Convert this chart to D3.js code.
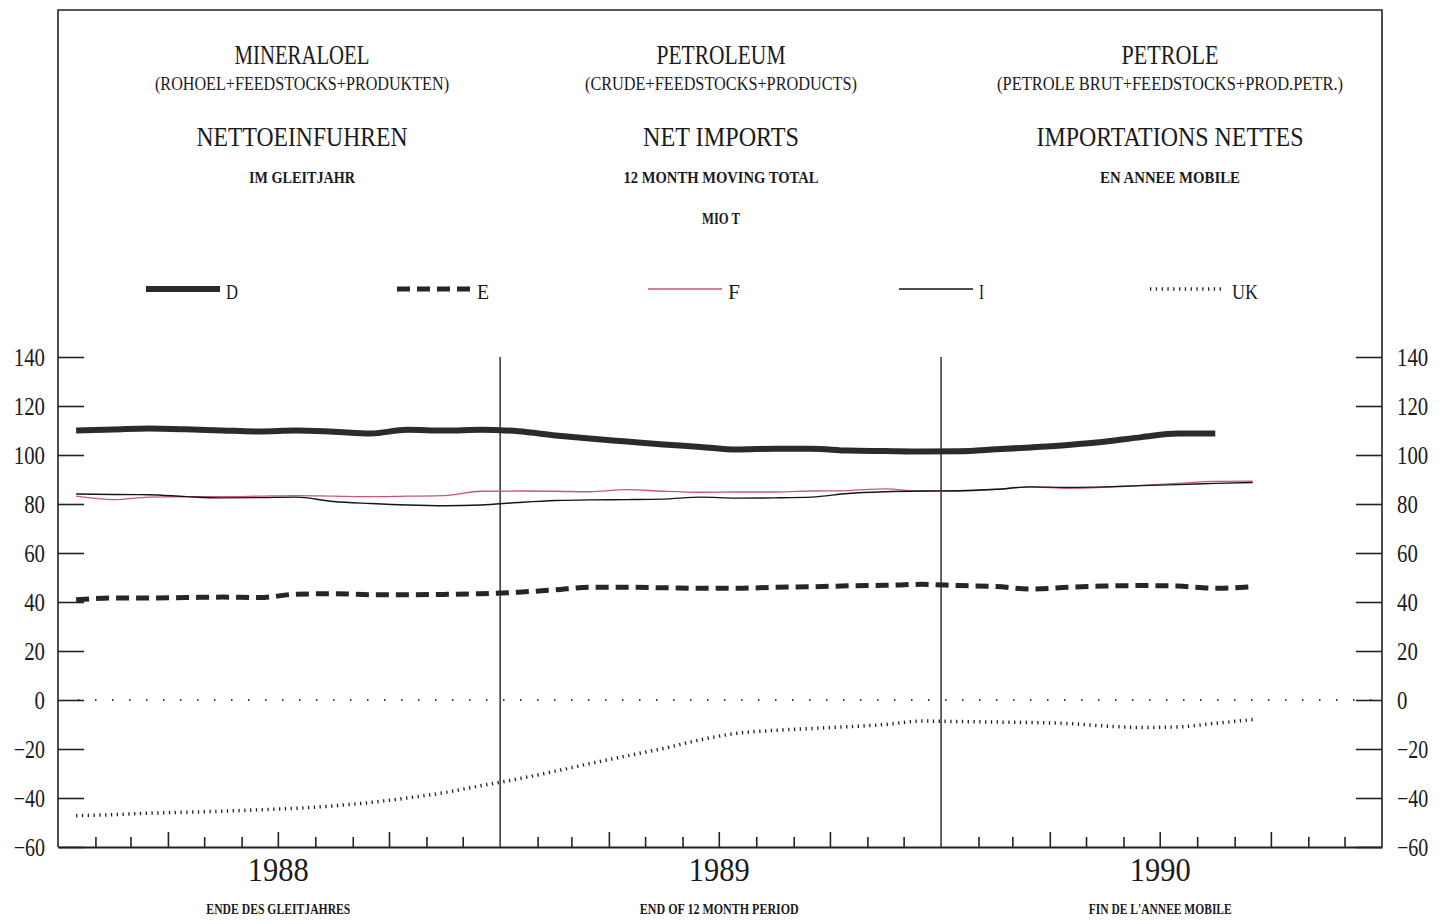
<!DOCTYPE html>
<html>
<head>
<meta charset="utf-8">
<script src="https://cdn.jsdelivr.net/npm/d3@7"></script>
<style>
  body { margin: 0; background: #fff; }
  svg { font-family: "Liberation Serif", "DejaVu Serif", serif; }
</style>
</head>
<body>
<svg></svg>
<script>
// Net imports of petroleum, 12 month moving total, Mio t (monthly from Jan 1988)
var countries = ["D", "E", "F", "I", "UK"];

var dValues = [110.0, 110.4, 110.8, 110.5, 110.0, 109.6, 110.0, 109.5, 108.8, 110.3, 110.0, 110.3,
               109.7, 108.0, 106.7, 105.5, 104.3, 103.3, 102.2, 102.6, 102.6, 101.8, 101.6, 101.4,
               101.5, 102.3, 103.1, 104.1, 105.4, 107.3, 108.8, 108.8];
var eValues = [40.9, 41.6, 41.6, 41.8, 42.0, 41.8, 43.2, 43.4, 43.0, 43.0, 43.1, 43.4,
               44.0, 45.0, 46.0, 46.0, 45.8, 45.6, 45.6, 46.0, 46.2, 46.6, 46.8, 47.2,
               46.7, 46.3, 45.3, 46.0, 46.5, 46.7, 46.5, 45.6, 46.2];
var fValues = [83.2, 81.8, 82.8, 83.0, 83.0, 83.2, 83.4, 83.2, 83.0, 83.2, 83.4, 85.2,
               85.3, 85.2, 85.0, 85.9, 85.2, 84.8, 84.9, 84.9, 85.3, 85.5, 86.2, 85.2,
               85.3, 86.0, 87.0, 86.4, 86.8, 87.6, 88.4, 89.2, 89.3];
var iValues = [84.1, 83.9, 83.8, 83.0, 82.5, 82.6, 82.8, 81.0, 80.2, 79.6, 79.3, 79.6,
               80.6, 81.4, 81.7, 81.8, 82.0, 82.8, 82.4, 82.5, 82.8, 84.3, 85.0, 85.3,
               85.4, 86.0, 87.0, 86.8, 87.0, 87.5, 87.9, 88.4, 88.8];
var ukValues = [-47.2, -46.8, -46.2, -45.8, -45.4, -44.8, -44.2, -43.2, -41.8, -40.0, -37.8, -35.0,
                -32.2, -29.0, -26.0, -22.8, -19.8, -16.2, -13.6, -12.4, -11.6, -10.9, -10.0, -8.6,
                -8.8, -9.0, -9.2, -9.6, -10.6, -11.2, -11.0, -9.5, -8.0];

var yTicks = [-60, -40, -20, 0, 20, 40, 60, 80, 100, 120, 140];
var yearLabels = ["1988", "1989", "1990"];
var periodLabels = ["ENDE DES GLEITJAHRES", "END OF 12 MONTH PERIOD", "FIN DE L'ANNEE MOBILE"];

var titleRow1 = ["MINERALOEL", "PETROLEUM", "PETROLE"];
var titleRow2 = ["(ROHOEL+FEEDSTOCKS+PRODUKTEN)", "(CRUDE+FEEDSTOCKS+PRODUCTS)", "(PETROLE BRUT+FEEDSTOCKS+PROD.PETR.)"];
var titleRow3 = ["NETTOEINFUHREN", "NET IMPORTS", "IMPORTATIONS NETTES"];
var titleRow4 = ["IM GLEITJAHR", "12 MONTH MOVING TOTAL", "EN ANNEE MOBILE"];
var unitLabel = "MIO T";

// SVG
var width = 1446;
var height = 924;
var plotLeft = 58, plotRight = 1382, plotTop = 357, plotBottom = 847;

var svg = d3.select("svg")
    .attr("width", width)
    .attr("height", height);

// months: series start Jan 1988, points drawn mid-month
var months = d3.timeMonth.range(new Date(1988, 0, 1), new Date(1990, 9, 1));
var mid = function(m) { return d3.timeDay.offset(m, 15); };

var x = d3.scaleTime()
    .domain([new Date(1988, 0, 1), new Date(1991, 0, 1)])
    .range([plotLeft, plotRight]);

var y = d3.scaleLinear()
    .domain([-60, 140])
    .range([plotBottom, plotTop]);

// condensed text helper
function fit(sel, w) {
    sel.attr("textLength", w).attr("lengthAdjust", "spacingAndGlyphs");
}

// frame
svg.append("path")
    .attr("fill", "none")
    .attr("stroke", "#222")
    .attr("stroke-width", 1.6)
    .attr("d", "M" + plotLeft + "," + plotBottom + "V10H" + plotRight + "V" + plotBottom);

// header
var cols = [302, 721, 1170];
var rows = [
    { t: titleRow1, y: 64, size: 27, weight: "normal", w: [135, 129, 97] },
    { t: titleRow2, y: 90, size: 19, weight: "normal", w: [294, 272, 346] },
    { t: titleRow3, y: 146, size: 28, weight: "normal", w: [211, 156, 267] },
    { t: titleRow4, y: 183, size: 17, weight: "bold", w: [106, 195, 140] }
];
rows.forEach(function(r) {
    r.t.forEach(function(s, i) {
        svg.append("text")
            .attr("x", cols[i]).attr("y", r.y)
            .attr("text-anchor", "middle")
            .attr("font-size", r.size)
            .attr("font-weight", r.weight)
            .attr("fill", "#1a1a1a")
            .text(s)
            .call(fit, r.w[i]);
    });
});
svg.append("text")
    .attr("x", cols[1]).attr("y", 224)
    .attr("text-anchor", "middle")
    .attr("font-size", 16).attr("font-weight", "bold").attr("fill", "#1a1a1a")
    .text(unitLabel)
    .call(fit, 38);

// series
var series = [
    { name: "D", values: dValues, color: "#2b2b2b", w: 6, dash: null },
    { name: "E", values: eValues, color: "#262626", w: 5, dash: "13,7" },
    { name: "F", values: fValues, color: "#c9577a", w: 1.3, dash: null },
    { name: "I", values: iValues, color: "#151515", w: 1.4, dash: null },
    { name: "UK", values: ukValues, color: "#222", w: 3.5, dash: "1.3,4.5" }
];

// legend
var legend = svg.append("g").attr("transform", "translate(146,289)");
series.forEach(function(s, i) {
    var g = legend.append("g").attr("transform", "translate(" + (i * 251) + ",0)");
    g.append("line")
        .attr("x1", 0).attr("x2", 74)
        .attr("stroke", s.color)
        .attr("stroke-width", s.w)
        .attr("stroke-dasharray", s.dash);
    g.append("text")
        .attr("x", s.name === "UK" ? 82 : 80).attr("y", 10)
        .attr("font-size", 22).attr("fill", "#1a1a1a")
        .text(countries[i])
        .call(fit, s.name === "UK" ? 26 : (s.name === "I" ? 5 : 12));
});

// zero reference line
svg.append("line")
    .attr("x1", plotLeft + 20).attr("x2", plotRight)
    .attr("y1", y(0)).attr("y2", y(0))
    .attr("stroke", "#444")
    .attr("stroke-width", 2)
    .attr("stroke-dasharray", "1.5,15.5");

// year dividers
svg.selectAll(".divider")
    .data([new Date(1989, 0, 1), new Date(1990, 0, 1)])
    .enter().append("line")
    .attr("class", "divider")
    .attr("x1", d => x(d)).attr("x2", d => x(d))
    .attr("y1", plotTop).attr("y2", plotBottom)
    .attr("stroke", "#222").attr("stroke-width", 1.4);

// axes
var yLeft = d3.axisLeft(y).tickValues(yTicks).tickSize(-26).tickSizeOuter(0).tickPadding(13);
var yRight = d3.axisRight(y).tickValues(yTicks).tickSize(-26).tickSizeOuter(0).tickPadding(15);

function styleY(g) {
    g.select(".domain").remove();
    g.selectAll(".tick line").attr("stroke", "#222").attr("stroke-width", 1.6);
    g.selectAll(".tick text")
        .attr("font-family", "Liberation Serif, serif")
        .attr("font-size", 25)
        .attr("fill", "#1a1a1a")
        .each(function(d) {
            var s = d3.select(this).text();
            d3.select(this).attr("textLength", s.length * 10.4).attr("lengthAdjust", "spacingAndGlyphs");
        });
}

svg.append("g").attr("transform", "translate(" + plotLeft + ",0)").call(yLeft).call(styleY);
svg.append("g").attr("transform", "translate(" + plotRight + ",0)").call(yRight).call(styleY);

// month ticks on the bottom axis, longer at quarters
var monthTicks = d3.timeMonth.range(new Date(1988, 1, 1), new Date(1991, 0, 1))
    .filter(d => d.getMonth() !== 0);
var xAxis = d3.axisBottom(x).tickValues(monthTicks).tickSize(-10).tickSizeOuter(0).tickFormat("");
var gx = svg.append("g").attr("transform", "translate(0," + plotBottom + ")").call(xAxis);
gx.select(".domain").attr("stroke", "#222").attr("stroke-width", 1.8);
gx.selectAll(".tick line")
    .attr("stroke", "#222").attr("stroke-width", 1.6)
    .attr("y2", d => d.getMonth() % 3 === 0 ? -15 : -10);

// year labels
var yearAxis = d3.axisBottom(x)
    .tickValues([new Date(1988, 6, 1), new Date(1989, 6, 1), new Date(1990, 6, 1)])
    .tickSize(0).tickPadding(11)
    .tickFormat((d, i) => yearLabels[i]);
var gy = svg.append("g").attr("transform", "translate(0," + plotBottom + ")").call(yearAxis);
gy.select(".domain").remove();
gy.selectAll(".tick text")
    .attr("font-family", "Liberation Serif, serif")
    .attr("font-size", 33).attr("fill", "#1a1a1a")
    .attr("textLength", 61).attr("lengthAdjust", "spacingAndGlyphs");

gy.selectAll(".tick").append("text")
    .attr("y", 67)
    .attr("font-family", "Liberation Serif, serif")
    .attr("font-size", 14).attr("font-weight", "bold").attr("fill", "#1a1a1a")
    .text((d, i) => periodLabels[i])
    .each(function(d, i) {
        d3.select(this).call(fit, [144, 159, 143][i]);
    });

// lines
var line = d3.line()
    .x(d => x(mid(d.month)))
    .y(d => y(d.value))
    .curve(d3.curveMonotoneX);

var g = svg.append("g");
series.forEach(function(s) {
    var pts = s.values.map((v, i) => ({ month: months[i], value: v }));
    g.append("path")
        .attr("fill", "none")
        .attr("stroke", s.color)
        .attr("stroke-width", s.w)
        .attr("stroke-dasharray", s.dash)
        .attr("stroke-linejoin", "round")
        .attr("d", line(pts));
});
</script>
</body>
</html>
